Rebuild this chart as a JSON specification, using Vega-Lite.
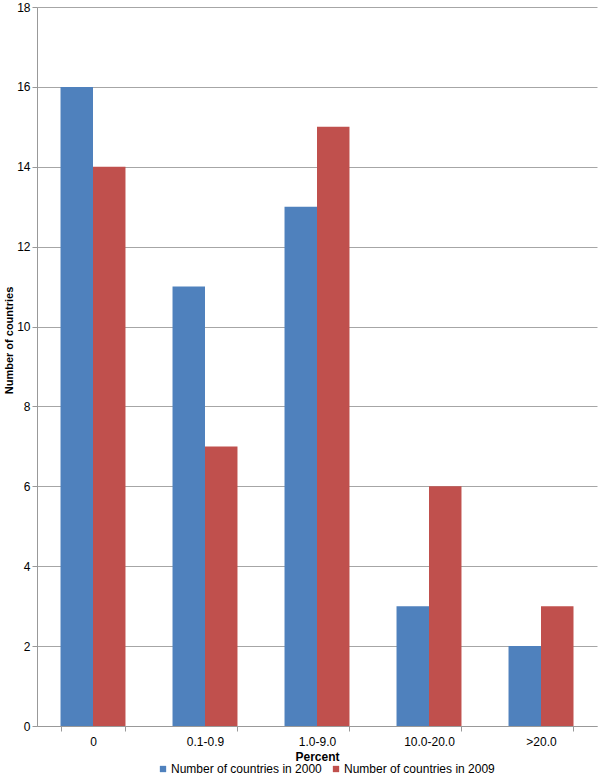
{
  "$schema": "https://vega.github.io/schema/vega-lite/v6.json",
  "autosize": "none",
  "width": 560,
  "height": 719,
  "padding": {"left": 37, "top": 7, "right": 3, "bottom": 51},
  "background": "white",
  "config": {
    "font": "Liberation Sans",
    "view": {"stroke": null}
  },
  "data": {
    "values": [
      {"category": "0", "series": "Number of countries in 2000", "value": 16},
      {"category": "0", "series": "Number of countries in 2009", "value": 14},
      {"category": "0.1-0.9", "series": "Number of countries in 2000", "value": 11},
      {"category": "0.1-0.9", "series": "Number of countries in 2009", "value": 7},
      {"category": "1.0-9.0", "series": "Number of countries in 2000", "value": 13},
      {"category": "1.0-9.0", "series": "Number of countries in 2009", "value": 15},
      {"category": "10.0-20.0", "series": "Number of countries in 2000", "value": 3},
      {"category": "10.0-20.0", "series": "Number of countries in 2009", "value": 6},
      {"category": ">20.0", "series": "Number of countries in 2000", "value": 2},
      {"category": ">20.0", "series": "Number of countries in 2009", "value": 3}
    ]
  },
  "mark": {"type": "bar"},
  "encoding": {
    "x": {
      "field": "category",
      "type": "nominal",
      "sort": null,
      "scale": {"paddingInner": 0.42, "paddingOuter": 0.21},
      "axis": {
        "title": "Percent",
        "titleFontSize": 12,
        "titleFontWeight": "bold",
        "titleColor": "black",
        "titlePadding": 4,
        "labelAngle": 0,
        "labelFontSize": 12,
        "labelColor": "black",
        "labelPadding": 5,
        "tickBand": "extent",
        "tickSize": 5,
        "tickColor": "#999999",
        "domainColor": "#999999",
        "grid": false
      }
    },
    "xOffset": {"field": "series", "type": "nominal"},
    "y": {
      "field": "value",
      "type": "quantitative",
      "scale": {"domain": [0, 18]},
      "axis": {
        "title": "Number of countries",
        "titleFontSize": 11,
        "titleFontWeight": "bold",
        "titleColor": "black",
        "titleX": -23,
        "titleY": 333,
        "values": [0, 2, 4, 6, 8, 10, 12, 14, 16, 18],
        "labelFontSize": 12,
        "labelColor": "black",
        "labelPadding": 2,
        "tickSize": 5,
        "tickColor": "#999999",
        "domainColor": "#999999",
        "gridColor": "#a6a6a6",
        "gridWidth": 1
      }
    },
    "color": {
      "field": "series",
      "type": "nominal",
      "scale": {"range": ["#4F81BD", "#C0504D"]},
      "legend": {
        "title": null,
        "orient": "none",
        "direction": "horizontal",
        "legendX": 120,
        "legendY": 756,
        "symbolType": "square",
        "symbolSize": 40,
        "symbolStrokeWidth": 0,
        "labelFontSize": 12,
        "labelColor": "black",
        "labelOffset": 2,
        "columnPadding": 8
      }
    }
  }
}
